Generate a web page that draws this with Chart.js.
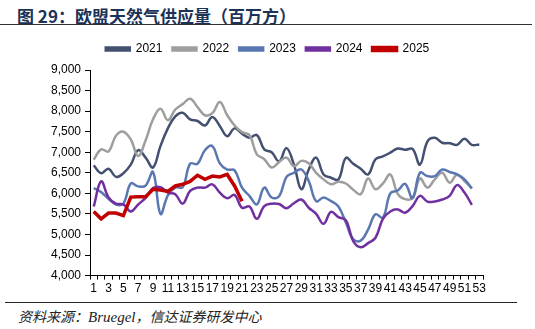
<!DOCTYPE html>
<html>
<head>
<meta charset="utf-8">
<script src="https://cdn.jsdelivr.net/npm/chart.js@4"></script>
<style>
  html, body { margin: 0; padding: 0; background: #fff; }
  body { width: 535px; height: 329px; position: relative; overflow: hidden; }
  #title {
    position: absolute; left: 17px; top: 3px;
    font: bold 17px "Noto Sans CJK SC", sans-serif; color: #1c3257;
    white-space: nowrap;
  }
  #rule1 { position: absolute; left: 0; top: 24px; width: 532px; height: 0; border-top: 1.5px solid #333; }
  #rule2 { position: absolute; left: 5px; top: 302px; width: 512px; height: 0; border-top: 1px solid #222; }
  #source {
    position: absolute; left: 18px; top: 306px;
    font: italic 14px "Noto Sans CJK SC", sans-serif; color: #222; white-space: nowrap;
  }
  #source i { font-family: "Liberation Serif", serif; font-size: 15px; }
  #box { position: absolute; left: 0; top: 28px; width: 535px; height: 270px; }
</style>
</head>
<body>
<div id="title">图 29：欧盟天然气供应量（百万方）</div>
<div id="rule1"></div>
<div id="box"><canvas id="gas"></canvas></div>
<div id="rule2"></div>
<div id="source">资料来源：<i>Bruegel</i>，信达证券研发中心</div>
<script>
// weekly EU gas supply, million m3
var weeks = [1,2,3,4,5,6,7,8,9,10,11,12,13,14,15,16,17,18,19,20,21,22,23,24,25,26,27,
  28,29,30,31,32,33,34,35,36,37,38,39,40,41,42,43,44,45,46,47,48,49,50,51,52,53]

var y2021 = [6680,6490,6600,6400,6490,6700,7050,6870,6630,7150,
  7580,7870,7960,7800,7760,7650,7860,7640,7390,7580,
  7450,7350,7420,7070,7000,6780,7100,6700,6100,6580,
  6870,6460,6380,6340,6860,6720,6600,6460,6830,6900,
  6990,7090,7060,7080,6700,7260,7350,7230,7220,7180,
  7330,7180,7190]
var y2022 = [6820,7070,7020,7400,7500,7310,6910,7290,7800,8060,
  7780,8040,8170,8300,8100,7900,7950,8220,7900,7650,
  7490,7420,6950,6830,6630,6760,6870,6660,6790,6730,
  6500,6340,6220,6280,6240,6090,5980,6360,6100,6240,
  6460,5990,5860,5890,6360,6140,6340,6500,6260,6450,
  6300,6120]
var y2023 = [6130,6030,5870,5730,5750,6240,6170,6190,6520,5500,
  5950,6140,6150,6720,6720,7050,7150,6730,6580,6560,
  6140,5940,5730,6140,5900,5930,6400,6500,6580,6300,
  5810,5900,5810,5680,5290,4880,4850,5120,5490,5410,
  6000,6070,6230,5880,6500,6420,6420,6580,6520,6460,
  6340,6120]
var y2024 = [5680,6290,5900,5750,5730,5560,5730,5890,6130,6150,
  6020,5980,5750,6060,6140,6140,6220,6020,5880,5960,
  5650,5680,5380,5690,5750,5740,5640,5760,5850,5650,
  5500,5260,5550,5420,5350,4840,4690,4790,4920,5380,
  5560,5610,5530,5690,5940,5800,5800,5850,5940,6200,
  6020,5720]
var y2025 = [5560,5380,5520,5520,5460,5910,5920,5920,6100,6080,
  6050,6180,6220,6290,6440,6340,6420,6400,6460,6180,5810]

var years = ['2021', '2022', '2023', '2024', '2025']
var colors = ['#435070', '#9e9e9e', '#5a77b1', '#7030a0', '#c00000']

var series = [y2021, y2022, y2023, y2024, y2025]

// a bit more room between legend and plot
var legendGap = {
  id: 'legendGap',
  beforeInit: function (chart) {
    var fit = chart.legend.fit
    chart.legend.fit = function () {
      fit.call(this)
      this.height += 5
    }
  },
}

var ctx = document.getElementById('gas')
new Chart(ctx, {
  type: 'line',
  data: {
    labels: weeks,
    datasets: series.map(function (d, i) {
      var last = i == 4
      return {
        label: years[i],
        data: d,
        borderColor: colors[i],
        backgroundColor: colors[i],
        borderWidth: last ? 3.5 : 2.5,
        pointRadius: 0,
        tension: last ? 0 : 0.4,
        order: last ? 0 : 5 - i,
      }
    }),
  },
  plugins: [legendGap],
  options: {
    responsive: true,
    maintainAspectRatio: false,
    animation: false,
    layout: { padding: { left: 0, right: 0, top: 5, bottom: 0 } },
    plugins: {
      tooltip: { enabled: false },
      legend: {
        display: true,
        position: 'top',
        labels: {
          boxWidth: 24,
          boxHeight: 3,
          padding: 10,
          color: '#000',
          font: { family: 'Liberation Sans', size: 12 },
          sort: function (a, b) { return a.datasetIndex - b.datasetIndex },
        },
      },
    },
    scales: {
      x: {
        offset: true,
        grid: { offset: true, drawOnChartArea: false, tickLength: 4, color: '#000' },
        border: { color: '#000' },
        ticks: {
          autoSkip: false,
          maxRotation: 0,
          padding: 2,
          color: '#000',
          font: { family: 'Liberation Sans', size: 12 },
          callback: function (v, i) { return i % 2 == 0 ? weeks[i] : '' },
        },
      },
      y: {
        min: 4000,
        max: 9000,
        grid: { drawOnChartArea: false, tickLength: 5, color: '#000' },
        border: { color: '#000' },
        ticks: {
          stepSize: 500,
          padding: 4,
          color: '#000',
          font: { family: 'Liberation Sans', size: 12 },
          callback: function (v) { return v.toLocaleString('en-US') },
        },
        afterFit: function (s) { s.width = 90 },
      },
      pad: {
        position: 'right',
        display: true,
        grid: { display: false },
        border: { display: false },
        ticks: { display: false },
        afterFit: function (s) { s.width = 52 },
      },
    },
  },
})
</script>
</body>
</html>
